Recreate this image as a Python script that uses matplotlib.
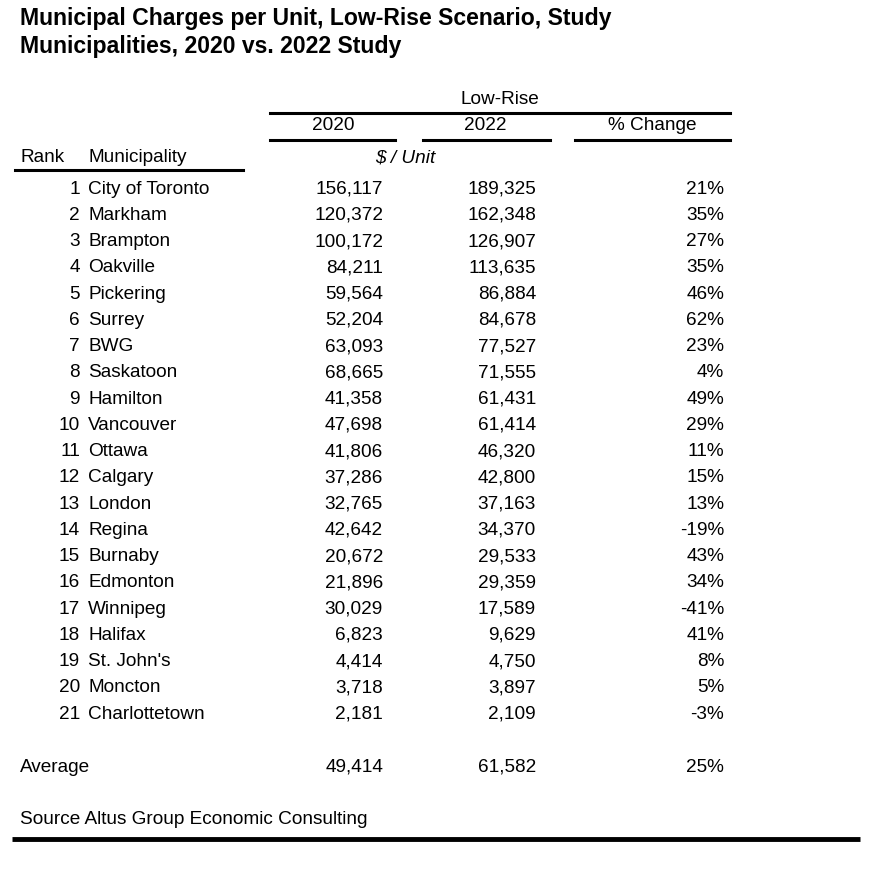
import matplotlib.pyplot as plt

plt.rcParams['font.family'] = ['Liberation Sans', 'DejaVu Sans']

ranks = list(range(1, 22))
names = ["City of Toronto", "Markham", "Brampton", "Oakville", "Pickering", "Surrey",
         "BWG", "Saskatoon", "Hamilton", "Vancouver", "Ottawa", "Calgary", "London",
         "Regina", "Burnaby", "Edmonton", "Winnipeg", "Halifax", "St. John's",
         "Moncton", "Charlottetown"]
v2020 = [156117, 120372, 100172, 84211, 59564, 52204, 63093, 68665, 41358, 47698,
         41806, 37286, 32765, 42642, 20672, 21896, 30029, 6823, 4414, 3718, 2181]
v2022 = [189325, 162348, 126907, 113635, 86884, 84678, 77527, 71555, 61431, 61414,
         46320, 42800, 37163, 34370, 29533, 29359, 17589, 9629, 4750, 3897, 2109]
pct = [21, 35, 27, 35, 46, 62, 23, 4, 49, 29, 11, 15, 13, -19, 43, 34, -41, 41, 8, 5, -3]
avg_2020 = 49414
avg_2022 = 61582
avg_pct = 25

title1 = "Municipal Charges per Unit, Low-Rise Scenario, Study"
title2 = "Municipalities, 2020 vs. 2022 Study"
source = "Source Altus Group Economic Consulting"

fig = plt.figure(figsize=(8.72, 8.72), dpi=100)
ax = fig.add_axes([0, 0, 1, 1])
ax.set_xlim(0, 872)
ax.set_ylim(872, 0)
ax.axis('off')

fs = 13.7
tfs = 16.6
ax.text(20, 18, title1, fontsize=tfs, fontweight='bold', va='center', ha='left')
ax.text(20, 46, title2, fontsize=tfs, fontweight='bold', va='center', ha='left')

# header
ax.text(500, 99, "Low-Rise", fontsize=fs, ha='center', va='center')
ax.plot([270, 730], [113, 113], color='black', lw=2.2)
ax.text(333, 126, "2020", fontsize=fs, ha='center', va='center')
ax.text(485, 126, "2022", fontsize=fs, ha='center', va='center')
ax.text(652, 126, "% Change", fontsize=fs, ha='center', va='center')
for x0, x1 in [(270, 395), (423, 550), (575, 730)]:
    ax.plot([x0, x1], [140, 140], color='black', lw=2.2)
ax.text(20, 158, "Rank", fontsize=fs, ha='left', va='center')
ax.text(88, 158, "Municipality", fontsize=fs, ha='left', va='center')
ax.text(405, 158, "$ / Unit", fontsize=fs, ha='center', va='center', style='italic')
ax.plot([15, 243], [170, 170], color='black', lw=2.2)

y0, dy = 189, 26.25
for i in range(len(names)):
    y = y0 + i * dy
    ax.text(80, y, str(ranks[i]), fontsize=fs, ha='right', va='center')
    ax.text(88, y, names[i], fontsize=fs, ha='left', va='center')
    ax.text(383, y, f"{v2020[i]:,}", fontsize=fs, ha='right', va='center')
    ax.text(536, y, f"{v2022[i]:,}", fontsize=fs, ha='right', va='center')
    ax.text(724, y, f"{pct[i]}%", fontsize=fs, ha='right', va='center')

ax.text(20, 767, "Average", fontsize=fs, ha='left', va='center')
ax.text(383, 767, f"{avg_2020:,}", fontsize=fs, ha='right', va='center')
ax.text(536, 767, f"{avg_2022:,}", fontsize=fs, ha='right', va='center')
ax.text(724, 767, f"{avg_pct}%", fontsize=fs, ha='right', va='center')

ax.text(20, 819, source, fontsize=fs, ha='left', va='center')
ax.plot([12, 860], [839, 839], color='black', lw=3.5, solid_capstyle='butt')

fig.savefig('out.png', dpi=100)
